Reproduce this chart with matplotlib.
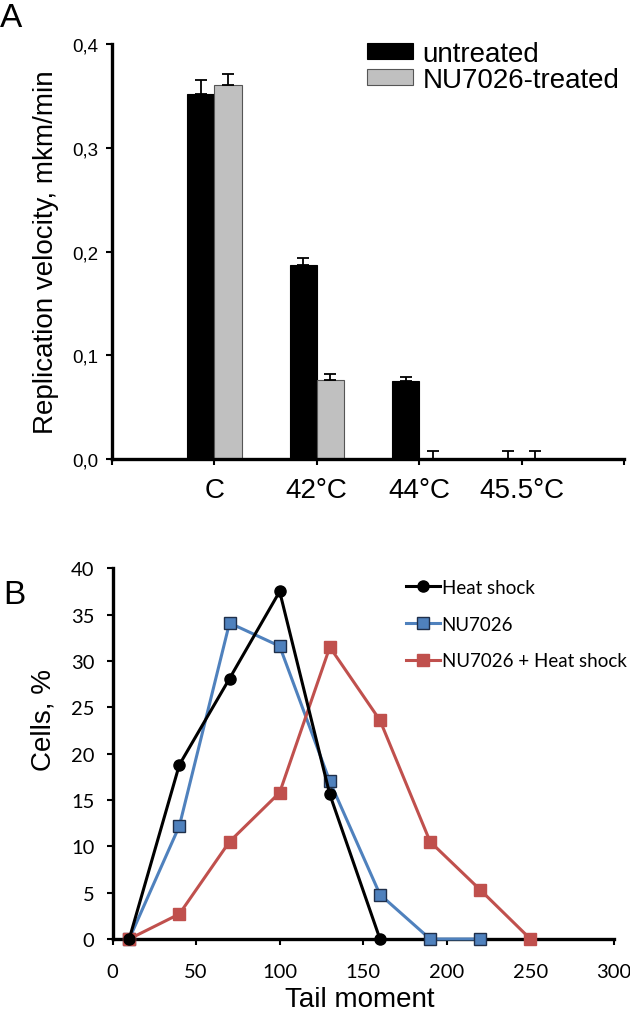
import matplotlib
matplotlib.use("Agg")
import matplotlib.pyplot as plt
import numpy as np
from matplotlib import font_manager

# ---------------- Data ----------------
categories = ['C', '42°C', '44°C', '45.5°C']
untreated = [0.352, 0.187, 0.0755, 0.0]
untreated_err = [0.013, 0.007, 0.004, 0.008]
treated = [0.3605, 0.076, 0.0, 0.0]
treated_err = [0.011, 0.006, 0.008, 0.008]
a_yticks = [0.0, 0.1, 0.2, 0.3, 0.4]
a_yticklabels = ['0,0', '0,1', '0,2', '0,3', '0,4']

tail_moment_hs = [10, 40, 70, 100, 130, 160]
heat_shock = [0, 18.8, 28.1, 37.5, 15.6, 0]
tail_moment_nu = [10, 40, 70, 100, 130, 160, 190, 220]
nu7026 = [0, 12.2, 34.1, 31.6, 17.0, 4.8, 0, 0]
tail_moment_nuhs = [10, 40, 70, 100, 130, 160, 190, 220, 250]
nu7026_hs = [0, 2.7, 10.5, 15.8, 31.5, 23.6, 10.5, 5.3, 0]
b_xticks = [0, 50, 100, 150, 200, 250, 300]
b_yticks = [0, 5, 10, 15, 20, 25, 30, 35, 40]

avail = {f.name for f in font_manager.fontManager.ttflist}
ARIAL = 'Liberation Sans' if 'Liberation Sans' in avail else 'DejaVu Sans'
CAL = 'Lato' if 'Lato' in avail else 'DejaVu Sans'

W, H = 630, 1012
fig = plt.figure(figsize=(W / 100, H / 100), dpi=100)

def fx(px):
    return px / W

def fy(py):
    return 1 - py / H

# ---------------- Panel A ----------------
axA = fig.add_axes([fx(112), fy(460), fx(624) - fx(112), fy(45) - fy(460)])
bw = 0.265
x = np.arange(1, len(categories) + 1)
axA.bar(x - bw / 2, untreated, width=bw, color='black', edgecolor='black',
        linewidth=0.8, label='untreated', zorder=2)
axA.bar(x + bw / 2, treated, width=bw, color='#c0c0c0', edgecolor='#555555',
        linewidth=0.8, label='NU7026-treated', zorder=2)
axA.errorbar(x - bw / 2, untreated, yerr=[np.zeros(len(x)), untreated_err],
             fmt='none', ecolor='black', elinewidth=1.3, capsize=4,
             capthick=1.3, zorder=3)
axA.errorbar(x + bw / 2, treated, yerr=[np.zeros(len(x)), treated_err],
             fmt='none', ecolor='black', elinewidth=1.3, capsize=4,
             capthick=1.3, zorder=3)
axA.set_xlim(0, 5)
axA.set_ylim(0, 0.4)
axA.set_xticks(np.arange(0, 6))
axA.set_xticklabels([''] + categories + [''], fontsize=20, family=ARIAL)
axA.set_yticks(a_yticks)
axA.set_yticklabels(a_yticklabels, fontsize=13.5, family=ARIAL)
for s in ['top', 'right']:
    axA.spines[s].set_visible(False)
for s in ['left', 'bottom']:
    axA.spines[s].set_linewidth(2.4)
    axA.spines[s].set_zorder(4)
axA.tick_params(axis='x', direction='out', length=4, width=1.5, pad=9)
axA.tick_params(axis='y', direction='out', length=4, width=1.5, pad=6)
fig.text(fx(46), fy(252), 'Replication velocity, mkm/min', rotation=90,
         ha='center', va='center', fontsize=20, family=ARIAL)
legA = axA.legend(loc='upper left', bbox_to_anchor=(fx(367), fy(42)),
                  bbox_transform=fig.transFigure, frameon=False,
                  prop={'family': ARIAL, 'size': 20},
                  handlelength=1.65, handleheight=0.5, handletextpad=0.35,
                  labelspacing=0.0, borderpad=0, borderaxespad=0)
fig.text(fx(0), fy(3), 'A', ha='left', va='top', fontsize=24, family=ARIAL)

# ---------------- Panel B ----------------
axB = fig.add_axes([fx(112.5), fy(940), fx(614) - fx(112.5), fy(569.3) - fy(940)])
blue = '#4f81bd'
red = '#c0504d'
axB.plot(tail_moment_hs, heat_shock, color='black', lw=2.2, marker='o',
         ms=8, mfc='black', mec='black', label='Heat shock', zorder=3,
         clip_on=False)
axB.plot(tail_moment_nu, nu7026, color=blue, lw=2.2, marker='s',
         ms=8, mfc=blue, mec='#1f2f4a', mew=1.0, label='NU7026', zorder=2,
         clip_on=False)
axB.plot(tail_moment_nuhs, nu7026_hs, color=red, lw=2.2, marker='s',
         ms=8, mfc=red, mec=red, label='NU7026 + Heat shock', zorder=2,
         clip_on=False)
axB.set_xlim(0, 300)
axB.set_ylim(0, 40)
axB.set_xticks(b_xticks)
axB.set_yticks(b_yticks)
axB.set_xticklabels([str(v) for v in b_xticks], fontsize=14.5, family=CAL)
axB.set_yticklabels([str(v) for v in b_yticks], fontsize=14.5, family=CAL)
for s in ['top', 'right']:
    axB.spines[s].set_visible(False)
for s in ['left', 'bottom']:
    axB.spines[s].set_linewidth(2.4)
    axB.spines[s].set_zorder(1)
axB.tick_params(axis='x', direction='out', length=4, width=1.5, pad=13)
axB.tick_params(axis='y', direction='out', length=4, width=1.5, pad=9)
fig.text(fx(44), fy(720), 'Cells, %', rotation=90, ha='center', va='center',
         fontsize=20, family=ARIAL)
fig.text(fx(360), fy(1000), 'Tail moment', ha='center', va='center',
         fontsize=20, family=ARIAL)
legB = axB.legend(loc='upper left', bbox_to_anchor=(fx(406), fy(580)),
                  bbox_transform=fig.transFigure, frameon=False,
                  prop={'family': CAL, 'size': 13.5}, numpoints=1,
                  handlelength=1.8, handletextpad=0.1, labelspacing=1.05,
                  borderpad=0, borderaxespad=0, markerscale=1.0)
fig.text(fx(3), fy(580), 'B', ha='left', va='top', fontsize=24, family=ARIAL)

fig.savefig('out.png', dpi=100)
